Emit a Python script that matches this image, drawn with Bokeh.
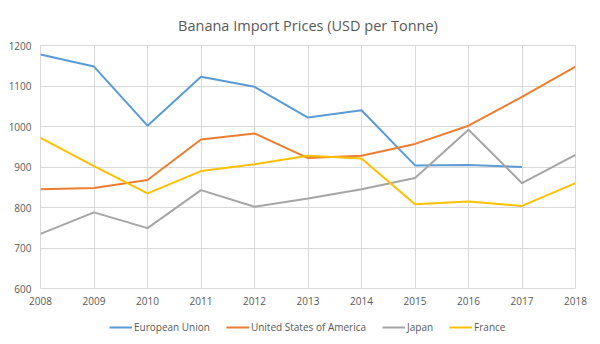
from bokeh.plotting import figure
from bokeh.models import Legend, LegendItem, FixedTicker, Range1d
from bokeh.layouts import column
from bokeh.embed import file_html
from bokeh.resources import INLINE

years = [2008, 2009, 2010, 2011, 2012, 2013, 2014, 2015, 2016, 2017, 2018]
eu_years = [2008, 2009, 2010, 2011, 2012, 2013, 2014, 2015, 2016, 2017]
european_union = [1178, 1148, 1002, 1123, 1098, 1022, 1040, 904, 905, 900]
usa = [845, 848, 868, 968, 983, 922, 928, 957, 1002, 1073, 1148]
japan = [735, 788, 749, 843, 802, 822, 845, 873, 992, 860, 930]
france = [972, 902, 835, 890, 907, 928, 921, 808, 815, 804, 860]
y_ticks = [600, 700, 800, 900, 1000, 1100, 1200]
series_names = ["European Union", "United States of America", "Japan", "France"]
series_colors = ["#5B9BD5", "#ED7D31", "#A5A5A5", "#FFC000"]

FONT = "Open Sans"
TXT = "#595959"
GRID = "#D9D9D9"

p = figure(width=592, height=310, output_backend="svg", toolbar_location=None,
           x_range=Range1d(2008, 2018), y_range=Range1d(600, 1200),
           min_border_left=40, min_border_right=17, min_border_top=45, min_border_bottom=22)

p.title.text = "Banana Import Prices (USD per Tonne)"
p.title.align = "center"
p.title.text_font = FONT
p.title.text_font_size = "14.5px"
p.title.text_font_style = "normal"
p.title.text_color = TXT
p.title.standoff = 21

p.outline_line_color = GRID

p.xaxis.ticker = FixedTicker(ticks=years)
p.yaxis.ticker = FixedTicker(ticks=y_ticks)
for ax in (p.xaxis[0], p.yaxis[0]):
    ax.axis_line_color = None
    ax.major_tick_line_color = None
    ax.minor_tick_line_color = None
    ax.major_tick_out = 0
    ax.major_tick_in = 0
    ax.minor_tick_out = 0
    ax.major_label_text_font = FONT
    ax.major_label_text_font_size = "10px"
    ax.major_label_text_color = TXT
p.xaxis.major_label_standoff = 8
p.yaxis.major_label_standoff = 9

p.xgrid.ticker = FixedTicker(ticks=years)
p.ygrid.ticker = FixedTicker(ticks=y_ticks)
p.xgrid.grid_line_color = GRID
p.ygrid.grid_line_color = GRID

series = [(eu_years, european_union), (years, usa), (years, japan), (years, france)]
for (xs, ys), col in zip(series, series_colors):
    p.line(xs, ys, line_color=col, line_width=2)

# legend strip (its lines lie outside this strip's ranges, so only the legend shows)
lg = figure(width=592, height=30, output_backend="svg", toolbar_location=None,
            x_axis_type=None, y_axis_type=None,
            x_range=Range1d(0, 1), y_range=Range1d(0, 1),
            min_border_left=0, min_border_right=0, min_border_top=0, min_border_bottom=0)
lg.outline_line_color = None
lg.xgrid.visible = False
lg.ygrid.visible = False
items = []
for name, col, (xs, ys) in zip(series_names, series_colors, series):
    r = lg.line(xs, ys, line_color=col, line_width=2)
    items.append(LegendItem(label=name, renderers=[r]))

legend = Legend(items=items, orientation="horizontal", location=(69, 6))
legend.border_line_color = None
legend.background_fill_alpha = 0
legend.label_text_font = FONT
legend.label_text_font_size = "10px"
legend.label_text_color = TXT
legend.glyph_width = 23
legend.glyph_height = 12
legend.label_height = 12
legend.label_standoff = 2
legend.spacing = 16
legend.padding = 4
legend.margin = 0
lg.add_layout(legend, "center")

layout = column(p, lg, spacing=0)
open("out.html", "w").write(file_html(layout, INLINE))
